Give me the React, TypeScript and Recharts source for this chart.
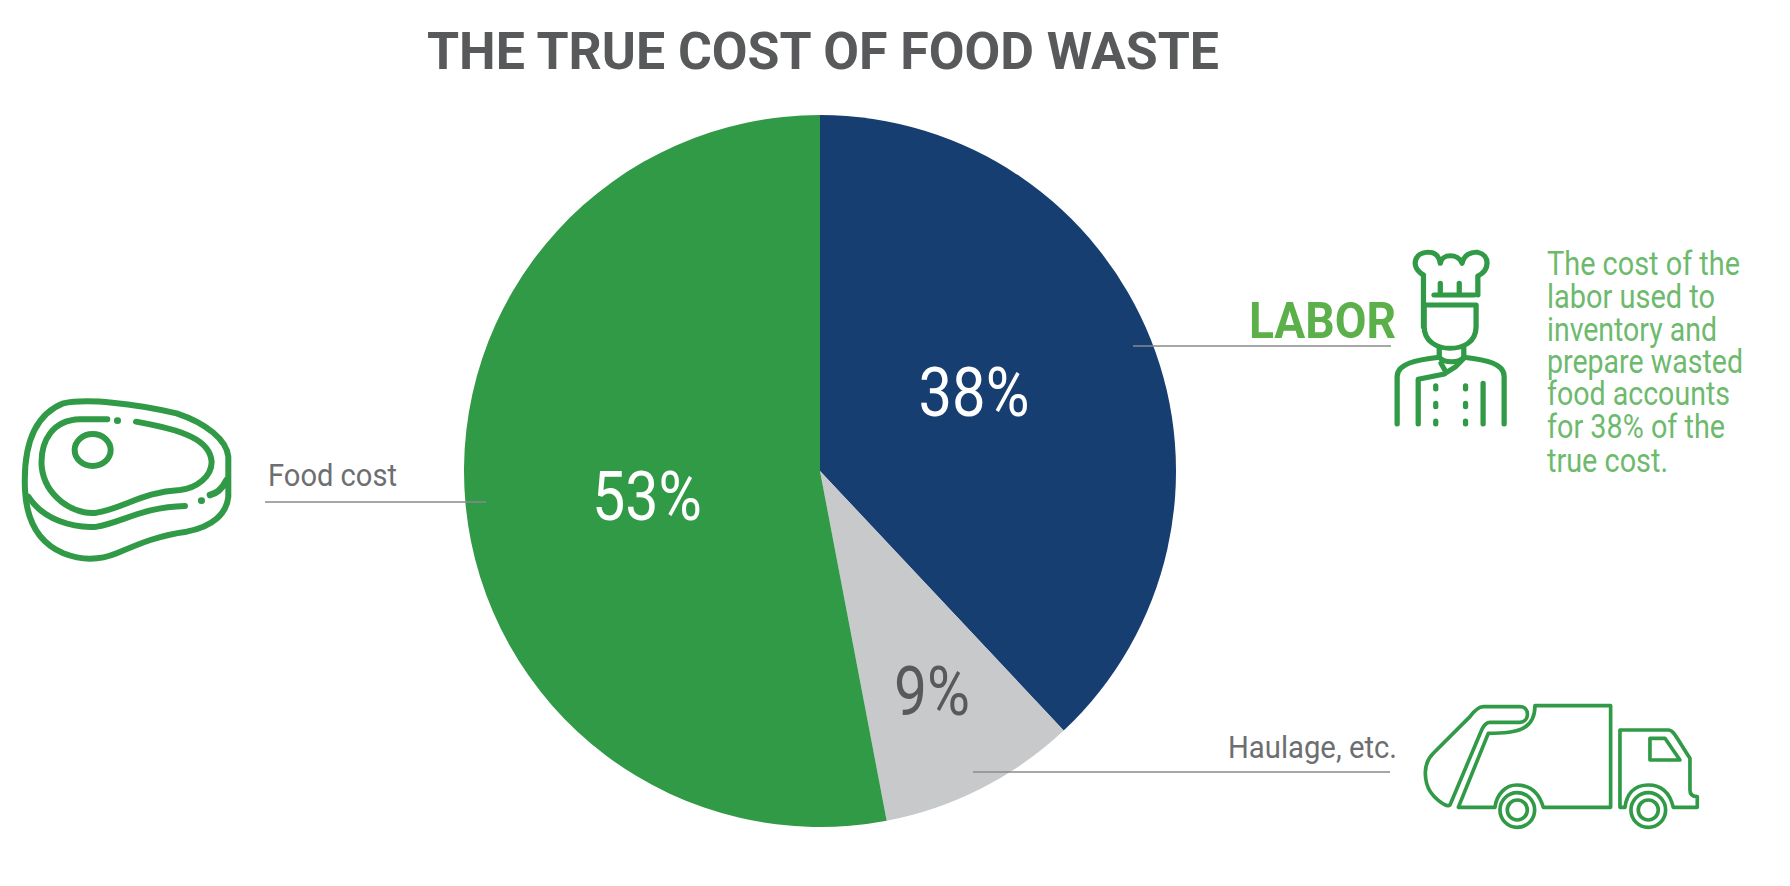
import React from "react";
import { PieChart, Pie, Cell } from "recharts";

const categories = ["Labor", "Haulage, etc.", "Food cost"];
const shares = [38, 9, 53];
const sliceColors = ["#173e70", "#c8c9cb", "#319a47"];
const labelColors = ["#ffffff", "#58595b", "#ffffff"];
const titleText = "THE TRUE COST OF FOOD WASTE";
const laborNote = ["The cost of the", "labor used to", "inventory and", "prepare wasted", "food accounts", "for 38% of the", "true cost."];

const data = categories.map((name, i) => ({ name, value: shares[i] }));

const FONT = "Roboto, sans-serif";
const ICON = "#319a47";
const TEXT_GREEN = "#6dba6d";
const labelOffsets = [
  { dx: 154, dy: -55, w: 111 },
  { dx: 112, dy: 244, w: 76 },
  { dx: -173, dy: 49, w: 110 },
];
const noteBaselines = [275, 308, 341, 373, 405, 438, 472];
const noteWidths = [193, 168, 170, 196, 183, 178, 121];

const renderLabel = (p: any) => {
  const o = labelOffsets[p.index];
  return (
    <text
      x={p.cx + o.dx}
      y={p.cy + o.dy}
      textAnchor="middle"
      fontFamily={FONT}
      fontSize={68}
      fill={labelColors[p.index]}
      textLength={o.w}
      lengthAdjust="spacingAndGlyphs"
    >
      {shares[p.index]}%
    </text>
  );
};

const Chef = () => (
  <g transform="translate(1220 220) scale(0.3508 0.3333)" fill="none" stroke={ICON} strokeWidth={15} strokeLinecap="round" strokeLinejoin="round">
    <path d="M580 165C540 140 555 95 595 97C612 97 625 108 628 130C632 100 680 100 690 130C695 105 715 95 735 97C770 105 770 150 735 168V225M580 165V320" />
    <path d="M610 225H725M585 255H730M628 190V222M682 190V222" />
    <path d="M582 260V320C582 365 620 385 655 385C695 385 730 365 730 320V260" />
    <path d="M625 385V412C640 430 680 430 695 412V385" />
    <path d="M505 612V470C505 430 560 420 625 412M695 412C760 420 810 430 810 470V612" />
    <path d="M630 430L645 458L672 440L695 415M565 612V478L640 462M750 490V612" />
    <path d="M615 497V507M700 497V507M615 550V560M700 550V560M615 603V612M700 603V612" />
  </g>
);

const Meat = () => (
  <g transform="translate(0 380) scale(0.3333)" fill="none" stroke={ICON} strokeWidth={18} strokeLinecap="round" strokeLinejoin="round">
    <path d="M75 330C70 220 90 110 190 70C260 55 400 70 530 100C620 130 680 180 685 230V350C680 400 640 440 560 455C480 465 420 490 350 520C290 545 240 540 190 520C120 490 80 430 75 330Z" />
    <path d="M85 350C130 420 220 445 290 440C360 430 430 380 555 378" />
    <path d="M322 118H240C160 120 120 180 125 260C135 350 220 405 290 398C370 385 430 335 540 330C590 325 635 290 635 245C630 180 550 150 408 125" />
    <path d="M630 345C650 340 665 330 680 300M352 122H353M604 362H605" strokeWidth={20} />
    <ellipse cx={278} cy={210} rx={54} ry={48} />
  </g>
);

const Truck = () => (
  <g transform="translate(1200 690) scale(0.3333)" fill="none" stroke={ICON} strokeWidth={11} strokeLinecap="round" strokeLinejoin="round">
    <path d="M850 50H960C990 50 990 95 960 97H870C855 97 850 110 845 120L750 345C740 355 690 320 680 280C670 240 680 210 700 190L810 80C825 60 840 50 850 50Z" />
    <path d="M1005 47H1232V352H1030C1015 300 985 285 950 285C920 285 890 310 885 352H775L865 130C950 130 1005 120 1005 47Z" />
    <path d="M1260 352V120H1405C1420 120 1425 135 1470 205V300C1470 315 1480 320 1492 320V352H1420C1410 310 1385 285 1345 285C1300 285 1280 315 1275 352Z" />
    <path d="M1350 145H1395L1440 210H1350Z" />
    <circle cx={952} cy={360} r={52} />
    <circle cx={952} cy={360} r={30} />
    <circle cx={1345} cy={360} r={52} />
    <circle cx={1345} cy={360} r={30} />
  </g>
);

export default function App() {
  return (
    <div style={{ position: "absolute", left: 0, top: 0, width: 1790, height: 886, background: "#fff", overflow: "hidden" }}>
      <div style={{ position: "absolute", left: 0, top: 0 }}>
        <PieChart width={1790} height={886} margin={{ top: 0, right: 0, bottom: 0, left: 0 }}>
          <Pie
            data={data}
            dataKey="value"
            nameKey="name"
            cx={820}
            cy={471}
            outerRadius={356}
            startAngle={90}
            endAngle={-270}
            stroke="none"
            isAnimationActive={false}
            labelLine={false}
            label={renderLabel}
          >
            {data.map((d, i) => (
              <Cell key={d.name} fill={sliceColors[i]} />
            ))}
          </Pie>
        </PieChart>
      </div>
      <svg width={1790} height={886} style={{ position: "absolute", left: 0, top: 0, pointerEvents: "none" }}>
        <text x={427} y={69} fontFamily={FONT} fontWeight={700} fontSize={52} fill="#58595b" textLength={792} lengthAdjust="spacingAndGlyphs">
          {titleText}
        </text>
        <line x1={265} x2={486} y1={502} y2={502} stroke="#888a8c" strokeWidth={1.5} />
        <line x1={1133} x2={1391} y1={346} y2={346} stroke="#888a8c" strokeWidth={1.5} />
        <line x1={973} x2={1390} y1={772} y2={772} stroke="#888a8c" strokeWidth={1.5} />
        <text x={268} y={486} fontFamily={FONT} fontSize={32} fill="#6d6e71" textLength={129} lengthAdjust="spacingAndGlyphs">
          {categories[2]}
        </text>
        <text x={1228} y={758} fontFamily={FONT} fontSize={32} fill="#6d6e71" textLength={169} lengthAdjust="spacingAndGlyphs">
          {categories[1]}
        </text>
        <text x={1249} y={338} fontFamily={FONT} fontWeight={700} fontSize={50} fill="#5bb04a" textLength={147} lengthAdjust="spacingAndGlyphs">
          {categories[0].toUpperCase()}
        </text>
        {laborNote.map((line, i) => (
          <text key={line} x={1547} y={noteBaselines[i]} fontFamily={FONT} fontSize={34} fill={TEXT_GREEN} textLength={noteWidths[i]} lengthAdjust="spacingAndGlyphs">
            {line}
          </text>
        ))}
        <Chef />
        <Meat />
        <Truck />
      </svg>
    </div>
  );
}
